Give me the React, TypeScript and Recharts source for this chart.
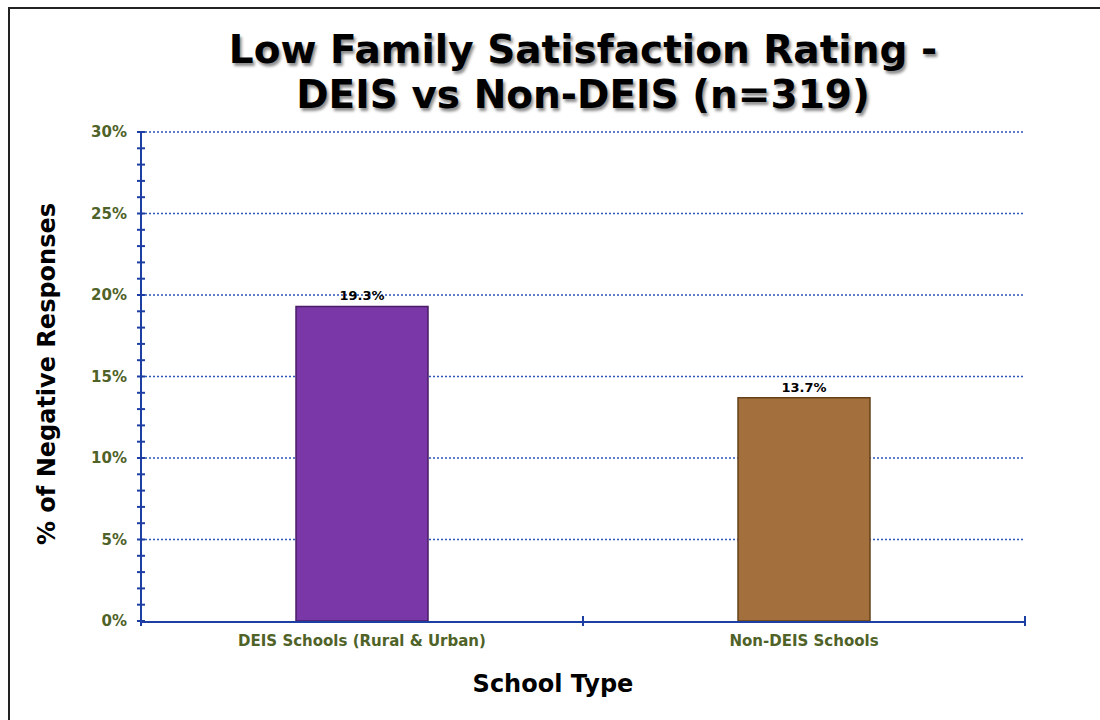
import React from 'react';
import { BarChart, Bar, XAxis, YAxis, CartesianGrid, Cell, LabelList } from 'recharts';

const categories = ['DEIS Schools (Rural & Urban)', 'Non-DEIS Schools'];
const values = [19.3, 13.7];
const barColors = ['#7a37a7', '#a36f3c'];
const barStrokes = ['#4a1e66', '#654119'];
const yTicks = [0, 1, 2, 3, 4, 5, 6, 7, 8, 9, 10, 11, 12, 13, 14, 15, 16, 17, 18, 19, 20, 21, 22, 23, 24, 25, 26, 27, 28, 29, 30];
const gridValues = [5, 10, 15, 20, 25, 30];
const boundaryTicks = [0, 1, 2];
const titleLines = ['Low Family Satisfaction Rating -', 'DEIS vs Non-DEIS (n=319)'];
const yTitle = '% of Negative Responses';
const xTitle = 'School Type';

const data = categories.map((name, i) => ({ name, value: values[i], pos: i + 0.5 }));

const FONT = '"DejaVu Sans", Verdana, sans-serif';
const AXIS = '#1d3fa3';
const GREEN = '#4f6228';

const YTick = (props: any) => {
  const { x, y, payload } = props;
  const v = payload.value as number;
  const major = v % 5 === 0;
  return (
    <g>
      <line x1={x - 4} x2={x + 4} y1={y} y2={y} stroke={AXIS} strokeWidth={2} />
      {major && (
        <text x={x - 14} y={y} dy={5} textAnchor="end" fill={GREEN} fontFamily={FONT} fontWeight="bold" fontSize={15}>
          {v + '%'}
        </text>
      )}
    </g>
  );
};

const BoundaryTick = (props: any) => {
  const { x, y } = props;
  return <line x1={x} x2={x} y1={y - 5} y2={y + 5} stroke={AXIS} strokeWidth={2} />;
};

const CatTick = (props: any) => {
  const { x, y, payload } = props;
  return (
    <text x={x} y={y + 24} textAnchor="middle" fill={GREEN} fontFamily={FONT} fontWeight="bold" fontSize={15}>
      {payload.value}
    </text>
  );
};

export default function App() {
  return (
    <div
      style={{
        width: 1100,
        height: 720,
        paddingTop: 7,
        paddingLeft: 8,
        boxSizing: 'border-box',
        overflow: 'hidden',
        background: '#fff',
      }}
    >
      <style>{'html,body{margin:0;padding:0;overflow:hidden;background:#fff}'}</style>
      <div
        style={{
          position: 'relative',
          width: 1090,
          height: 711,
          borderTop: '2px solid #222',
          borderLeft: '2px solid #222',
          background: '#fff',
          overflow: 'hidden',
        }}
      >
        <div
          style={{
            position: 'absolute',
            left: 0,
            top: 18,
            width: 1146,
            textAlign: 'center',
            fontFamily: FONT,
            fontWeight: 'bold',
            fontSize: 39,
            lineHeight: '45px',
            color: '#000',
            textShadow: '2px 3px 3px rgba(0,0,0,0.45)',
          }}
        >
          <div>{titleLines[0]}</div>
          <div>{titleLines[1]}</div>
        </div>
        <div
          style={{
            position: 'absolute',
            left: 37 - 200,
            top: 365 - 14,
            width: 400,
            height: 28,
            textAlign: 'center',
            transform: 'rotate(-90deg)',
            fontFamily: FONT,
            fontWeight: 'bold',
            fontSize: 24,
            lineHeight: '28px',
            color: '#000',
          }}
        >
          {yTitle}
        </div>
        <div
          style={{
            position: 'absolute',
            left: 543 - 200,
            top: 661,
            width: 400,
            textAlign: 'center',
            fontFamily: FONT,
            fontWeight: 'bold',
            fontSize: 24,
            lineHeight: '28px',
            color: '#000',
          }}
        >
          {xTitle}
        </div>
        <div style={{ position: 'absolute', left: 0, top: 0 }}>
          <BarChart width={1090} height={710} data={data} margin={{ top: 123, right: 75, bottom: 96, left: 130 }}>
            <CartesianGrid vertical={false} horizontalValues={gridValues} stroke="#2e55b8" strokeDasharray="2 2" strokeWidth={1.5} />
            <XAxis
              xAxisId="c"
              dataKey="name"
              height={1}
              tickSize={0}
              tickMargin={0}
              tickLine={false}
              axisLine={{ stroke: AXIS, strokeWidth: 2 }}
              tick={<CatTick />}
              interval={0}
            />
            <XAxis
              xAxisId="b"
              type="number"
              dataKey="pos"
              domain={[0, 2]}
              ticks={boundaryTicks}
              interval={0}
              height={1}
              tickSize={0}
              tickMargin={0}
              axisLine={false}
              tickLine={false}
              tick={<BoundaryTick />}
              allowDataOverflow
            />
            <YAxis
              type="number"
              domain={[0, 30]}
              ticks={yTicks}
              interval={0}
              width={1}
              tickSize={0}
              tickMargin={0}
              tickLine={false}
              axisLine={{ stroke: AXIS, strokeWidth: 2 }}
              tick={<YTick />}
            />
            <Bar dataKey="value" xAxisId="c" barSize={132} isAnimationActive={false}>
              {data.map((d, i) => (
                <Cell key={d.name} fill={barColors[i]} stroke={barStrokes[i]} strokeWidth={1.5} />
              ))}
              <LabelList
                dataKey="value"
                position="top"
                offset={6}
                formatter={(v: any) => `${v}%`}
                fill="#000"
                fontFamily={FONT}
                fontWeight="bold"
                fontSize={13}
              />
            </Bar>
          </BarChart>
        </div>
      </div>
    </div>
  );
}
